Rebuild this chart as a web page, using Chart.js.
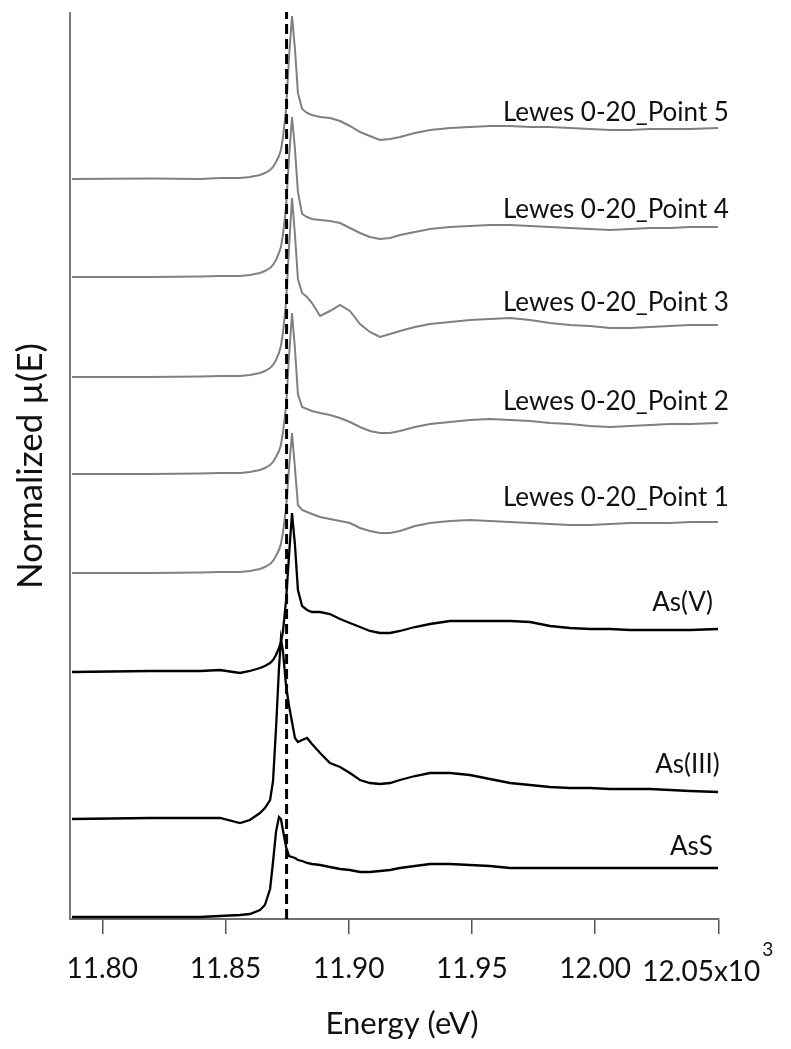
<!DOCTYPE html>
<html><head><meta charset="utf-8">
<script src="https://cdn.jsdelivr.net/npm/chart.js@4.4.1/dist/chart.umd.min.js"></script>
<style>html,body{margin:0;padding:0;background:#fff;overflow:hidden}canvas{display:block}</style>
</head><body>
<canvas id="c" width="791" height="1049"></canvas>
<script>
// Energy grid (x10^3 eV)
const energy = [11.7877,11.8194,11.8397,11.8478,11.8559,11.8599,11.8640,11.8660,11.8681,11.8693,11.8705,11.8717,11.8725,11.8733,11.8746,11.8758,11.8770,11.8782,11.8794,11.8811,11.8831,11.8851,11.8884,11.8924,11.8965,11.9005,11.9046,11.9086,11.9127,11.9168,11.9208,11.9269,11.9330,11.9411,11.9492,11.9573,11.9655,11.9736,11.9817,11.9898,11.9979,12.0061,12.0142,12.0223,12.0304,12.0385,12.0499];

// Normalized spectra (relative to each pre-edge baseline)
const point5 = [0,0.005,0,0.01,0.01,0.02,0.04,0.06,0.09,0.12,0.17,0.23,0.29,0.41,0.70,1.22,1.63,1.30,0.86,0.70,0.66,0.64,0.62,0.61,0.58,0.53,0.47,0.43,0.39,0.40,0.42,0.46,0.49,0.51,0.52,0.53,0.53,0.52,0.52,0.51,0.50,0.49,0.49,0.50,0.50,0.50,0.51];
const point4 = [0,0,0.005,0.01,0.01,0.02,0.04,0.06,0.09,0.12,0.17,0.24,0.30,0.42,0.70,1.20,1.60,1.28,0.85,0.63,0.60,0.58,0.57,0.56,0.54,0.49,0.44,0.40,0.38,0.39,0.42,0.45,0.48,0.50,0.51,0.52,0.52,0.51,0.50,0.49,0.48,0.47,0.48,0.49,0.49,0.50,0.50];
const point3 = [0,0,0.005,0.01,0.01,0.02,0.04,0.06,0.09,0.12,0.17,0.24,0.31,0.44,0.75,1.30,1.79,1.42,0.98,0.84,0.80,0.74,0.61,0.66,0.72,0.66,0.53,0.45,0.40,0.43,0.46,0.50,0.53,0.55,0.57,0.58,0.59,0.57,0.54,0.52,0.51,0.49,0.49,0.50,0.51,0.52,0.52];
const point2 = [0,0,0.005,0.01,0.01,0.02,0.04,0.06,0.09,0.12,0.17,0.23,0.29,0.41,0.68,1.18,1.61,1.25,0.80,0.67,0.65,0.63,0.61,0.59,0.56,0.52,0.47,0.43,0.41,0.41,0.43,0.47,0.50,0.52,0.54,0.55,0.54,0.53,0.51,0.50,0.48,0.47,0.48,0.49,0.50,0.50,0.51];
const point1 = [0,0,0.005,0.01,0.01,0.02,0.04,0.06,0.09,0.12,0.17,0.23,0.29,0.40,0.65,1.05,1.40,1.05,0.68,0.63,0.61,0.59,0.56,0.54,0.52,0.50,0.45,0.42,0.40,0.40,0.42,0.47,0.50,0.52,0.53,0.52,0.51,0.50,0.49,0.48,0.48,0.49,0.50,0.50,0.50,0.51,0.51];
const asV   = [0,0.01,0.01,0.02,-0.01,0.01,0.04,0.06,0.09,0.12,0.17,0.24,0.30,0.40,0.72,1.17,1.59,1.27,0.82,0.66,0.62,0.60,0.60,0.58,0.53,0.49,0.45,0.41,0.39,0.39,0.41,0.45,0.48,0.51,0.51,0.51,0.51,0.50,0.46,0.44,0.43,0.43,0.42,0.42,0.42,0.42,0.43];
const asIII = [0,0.01,0.01,0.01,-0.04,-0.01,0.06,0.11,0.19,0.38,0.90,1.50,1.80,1.68,1.33,1.13,0.97,0.81,0.77,0.79,0.81,0.75,0.66,0.56,0.52,0.46,0.39,0.36,0.35,0.36,0.39,0.43,0.46,0.46,0.44,0.40,0.36,0.34,0.32,0.31,0.31,0.30,0.30,0.30,0.29,0.28,0.27];
const asS   = [0,0,0,0.01,0.02,0.03,0.07,0.12,0.28,0.55,0.85,1.00,0.98,0.87,0.70,0.61,0.60,0.59,0.57,0.56,0.54,0.53,0.52,0.50,0.48,0.47,0.45,0.45,0.46,0.47,0.49,0.51,0.53,0.53,0.52,0.51,0.49,0.49,0.49,0.49,0.49,0.49,0.49,0.49,0.49,0.49,0.49];

const seriesNames = ['Lewes 0-20_Point 5','Lewes 0-20_Point 4','Lewes 0-20_Point 3','Lewes 0-20_Point 2','Lewes 0-20_Point 1','As(V)','As(III)','AsS'];
const seriesData = [point5, point4, point3, point2, point1, asV, asIII, asS];
const offsets = [7.40, 6.42, 5.42, 4.45, 3.46, 2.47, 1.00, 0.02];
const seriesColors = ['#808080','#808080','#808080','#808080','#808080','#000000','#000000','#000000'];

// Label placement (data space)
const labelX = [11.9626,11.9626,11.9626,11.9626,11.9626,12.0478,12.0506,12.0478];
const labelY = [8.06,7.09,6.16,5.17,4.21,3.16,1.54,0.72];
const labelAlign = ['left','left','left','left','left','right','right','right'];

const xTicks = [11.80, 11.85, 11.90, 11.95, 12.00, 12.05];
const xMin = 11.7867, xMax = 12.05;
const yMin = 0, yMax = 9.06;
const dashEnergy = 11.8748;

const FONT = 'Lato';

const datasets = [{
  data: [{x: dashEnergy, y: yMin}, {x: dashEnergy, y: yMax + 0.01}],
  borderColor: '#000', borderWidth: 3, borderDash: [10, 5], pointRadius: 0, showLine: true, clip: false
}];
seriesData.forEach((vals, i) => {
  datasets.push({
    label: seriesNames[i],
    data: vals.map((v, j) => ({x: energy[j], y: v + offsets[i]})),
    borderColor: seriesColors[i], borderWidth: i < 5 ? 2 : 2.3,
    pointRadius: 0, showLine: true, tension: 0
  });
});

const annot = {
  id: 'annot',
  afterDraw(chart) {
    const {ctx, scales: {x, y}} = chart;
    ctx.save();
    ctx.fillStyle = '#111';
    ctx.font = '26px ' + FONT;
    ctx.textBaseline = 'middle';
    seriesNames.forEach((name, i) => {
      ctx.textAlign = labelAlign[i];
      ctx.fillText(name, x.getPixelForValue(labelX[i]), y.getPixelForValue(labelY[i]));
    });
    // last tick label with exponent
    const lastPx = x.getPixelForValue(xTicks[xTicks.length - 1]);
    ctx.font = '28px ' + FONT;
    ctx.textAlign = 'right';
    ctx.textBaseline = 'alphabetic';
    ctx.fillText('12.05x10', lastPx + 42, 981);
    ctx.font = '19px ' + FONT;
    ctx.textAlign = 'left';
    ctx.fillText('3', lastPx + 44, 956);
    // axis titles
    ctx.font = '31px ' + FONT;
    ctx.textAlign = 'center';
    ctx.textBaseline = 'middle';
    ctx.fillText('Energy (eV)', 402, 1024);
    ctx.translate(31, 466);
    ctx.rotate(-Math.PI / 2);
    ctx.font = '35px ' + FONT;
    ctx.fillText('Normalized \u00B5(E)', 0, 0);
    ctx.restore();
  }
};

new Chart(document.getElementById('c'), {
  type: 'scatter',
  data: {datasets},
  plugins: [annot],
  options: {
    responsive: false, animation: false, devicePixelRatio: 1,
    layout: {padding: {top: 13, right: 72.7, left: 0, bottom: 0}},
    plugins: {legend: {display: false}, tooltip: {enabled: false}},
    scales: {
      x: {
        type: 'linear', min: xMin, max: xMax,
        afterBuildTicks: s => { s.ticks = xTicks.map(v => ({value: v})); },
        afterFit: s => { s.height = 130; },
        ticks: {
          autoSkip: false, maxRotation: 0, padding: 18, color: '#111',
          font: {family: FONT, size: 28},
          callback: (v, i) => i === xTicks.length - 1 ? '' : v.toFixed(2)
        },
        grid: {display: true, drawOnChartArea: false, drawTicks: true, tickLength: 15, color: '#555', lineWidth: 1.5},
        border: {display: true, color: '#6e6e6e', width: 2}
      },
      y: {
        type: 'linear', min: yMin, max: yMax,
        afterFit: s => { s.width = 69.5; },
        ticks: {display: false},
        grid: {display: false},
        border: {display: true, color: '#7a7a7a', width: 2}
      }
    }
  }
});
</script>
</body></html>
